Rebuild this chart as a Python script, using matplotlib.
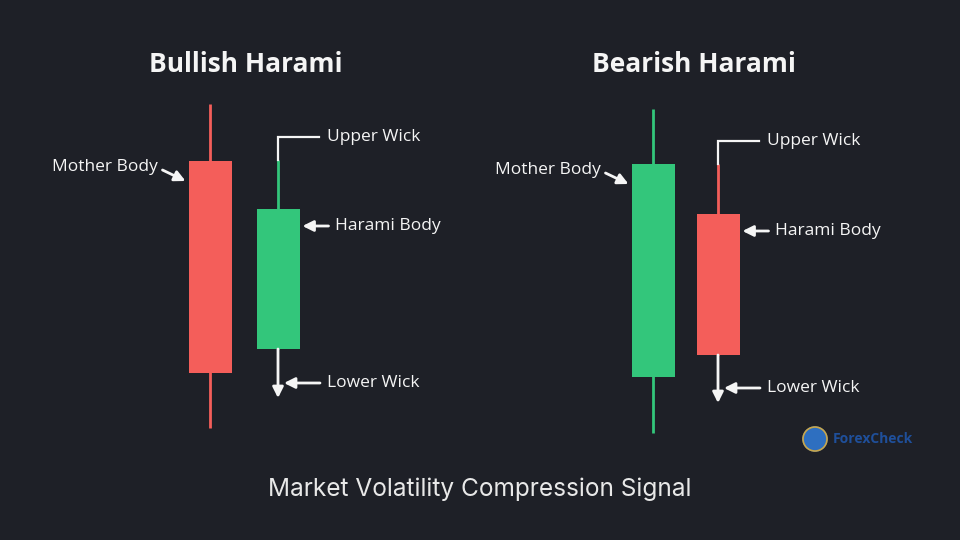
import matplotlib.pyplot as plt
from matplotlib.patches import Circle

BG = '#1e2027'
RED = '#f45e5a'
GREEN = '#33c67b'
WHITE = '#f5f5f5'

# candle data (price units, higher = up)
titles = ['Bullish Harami', 'Bearish Harami']
title_x = [246, 694]
candle_x = [210, 278, 653, 718]
opens = [379, 191, 163, 326]
closes = [167, 331, 376, 185]
highs = [436, 380, 431, 376]
lows = [112, 191, 107, 185]
colors = [RED, GREEN, GREEN, RED]
# annotation extents for harami candles (upper bracket top, lower arrow tip)
harami_upper = [403, 399]
harami_lower_tip = [142, 137]

fig = plt.figure(figsize=(9.6, 5.4), dpi=100)
fig.patch.set_facecolor(BG)
ax = fig.add_axes([0, 0, 1, 1])
ax.set_facecolor(BG)
ax.set_xlim(0, 960)
ax.set_ylim(0, 540)
ax.axis('off')

body_w = 43
for x, o, c, h, l, col in zip(candle_x, opens, closes, highs, lows, colors):
    ax.vlines(x, l, h, color=col, lw=2, zorder=1)
    ax.bar(x, abs(c - o), bottom=min(o, c), width=body_w, color=col, zorder=2)

arrow = dict(arrowstyle='-|>', color=WHITE, lw=2, mutation_scale=16, shrinkA=0, shrinkB=0)
lab = dict(color=WHITE, fontsize=12.5, family='Open Sans', va='center')

for i, (mi, hi) in enumerate([(0, 1), (2, 3)]):
    mx, hx = candle_x[mi], candle_x[hi]
    top_body = max(opens[mi], closes[mi])
    h_top = max(opens[hi], closes[hi])
    h_bot = min(opens[hi], closes[hi])
    # Mother body
    ax.annotate('', xy=(mx - body_w / 2 - 3, top_body - 20), xytext=(mx - body_w / 2 - 26, top_body - 9),
                arrowprops=arrow)
    ax.text(mx - body_w / 2 - 31, top_body - 6, 'Mother Body', ha='right', **lab)
    # Upper wick bracket
    up = harami_upper[i]
    ax.plot([hx, hx, hx + 41], [highs[hi], up, up], color=WHITE, lw=1.6, solid_joinstyle='miter')
    ax.text(hx + 49, up, 'Upper Wick', ha='left', **lab)
    # Harami body
    y_hb = h_top - 17
    ax.annotate('', xy=(hx + body_w / 2 + 3, y_hb), xytext=(hx + body_w / 2 + 29, y_hb), arrowprops=arrow)
    ax.text(hx + 57, y_hb, 'Harami Body', ha='left', **lab)
    # Lower wick
    ax.annotate('', xy=(hx, harami_lower_tip[i]), xytext=(hx, h_bot), arrowprops=arrow)
    y_lw = harami_lower_tip[i] + 15
    ax.annotate('', xy=(hx + 6, y_lw), xytext=(hx + 42, y_lw), arrowprops=arrow)
    ax.text(hx + 49, y_lw, 'Lower Wick', ha='left', **lab)

for t, x in zip(titles, title_x):
    ax.text(x, 476, t, ha='center', va='center', color=WHITE, fontsize=19,
            fontweight='bold', family='Open Sans')

ax.text(480, 51, 'Market Volatility Compression Signal', ha='center', va='center',
        color='#e8e8e8', fontsize=17.6, family='Inter', fontweight='normal')

# logo
ax.add_patch(Circle((815, 101), 12, color='#2e6fc0', zorder=3))
ax.add_patch(Circle((815, 101), 12, fill=False, ec='#c9a64a', lw=1.2, zorder=4))
ax.text(833, 101, 'ForexCheck', color='#1f4f9a', fontsize=10, fontweight='bold',
        family='Open Sans', va='center', ha='left')

fig.savefig('out.png', dpi=100, facecolor=BG)
